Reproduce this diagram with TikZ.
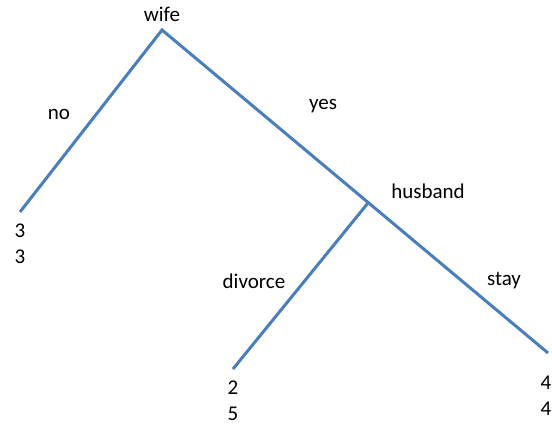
\documentclass[tikz,border=0pt]{standalone}
\usepackage{fontspec}
\setmainfont{Carlito}
\usepackage{xcolor}
\usetikzlibrary{positioning}
\definecolor{branchblue}{RGB}{74,126,187}

\begin{document}
\begin{tikzpicture}[x=1pt,y=1pt,
  font=\fontsize{21}{26}\selectfont,
  branch/.style={draw=branchblue,line width=3pt},
  lbl/.style={inner sep=0pt,anchor=center},
  payoff/.style={inner sep=0pt,align=center,anchor=center}]
  \useasboundingbox (0,0) rectangle (552,427);
  % decision points and ends
  \coordinate (wifept) at (162,397);
  \coordinate (husbpt) at (368,224);
  \coordinate (noend) at (20,215);
  \coordinate (divend) at (233,58);
  \coordinate (stayend) at (548,74);
  \draw[branch] (noend)--(wifept)--(stayend);
  \draw[branch] (husbpt)--(divend);
  % players
  \node[lbl] (wife) at (162,413) {wife};
  \node[lbl] (husband) at (428,236) {husband};
  % moves
  \node[lbl] (no) at (59,313) {no};
  \node[lbl] (yes) at (323,321) {yes};
  \node[lbl] (divorce) at (254,146) {divorce};
  \node[lbl] (stay) at (504,146) {stay};
  % payoffs
  \node[payoff] (pno) at (20,183) {3\\3};
  \node[payoff] (pdiv) at (233,26) {2\\5};
  \node[payoff] (pstay) at (546,31) {4\\4};
\end{tikzpicture}
\end{document}
